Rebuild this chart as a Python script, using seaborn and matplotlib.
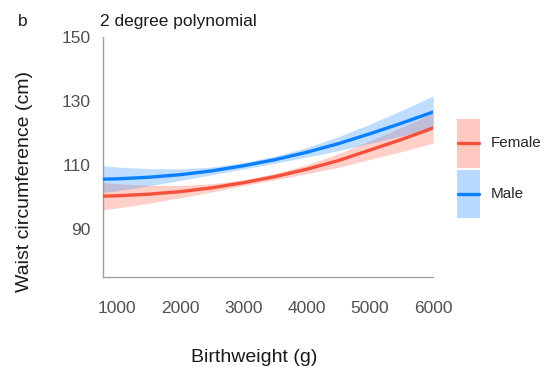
import matplotlib
matplotlib.use("Agg")
import matplotlib.pyplot as plt
from matplotlib.patches import Rectangle
from matplotlib.lines import Line2D
import seaborn as sns
import pandas as pd

# ---- data ----
birthweight = [780, 1000, 1500, 2000, 2500, 3000, 3500, 4000, 4500, 5000, 5500, 6000]
male_fit = [105.6, 105.7, 106.2, 107.0, 108.2, 109.8, 111.7, 114.0, 116.7, 119.8, 123.1, 126.6]
male_half = [4.2, 3.7, 2.7, 1.8, 1.2, 1.0, 1.1, 1.5, 2.2, 3.0, 4.0, 5.0]
female_fit = [100.3, 100.4, 100.9, 101.7, 102.9, 104.5, 106.4, 108.7, 111.4, 114.7, 118.0, 121.6]
female_half = [4.3, 3.8, 2.8, 1.9, 1.3, 0.9, 1.0, 1.4, 2.1, 2.9, 3.8, 4.7]
groups = ["Female", "Male"]
x_ticks = [1000, 2000, 3000, 4000, 5000, 6000]
y_ticks = [90, 110, 130, 150]

line_colors = {"Female": "#F5503C", "Male": "#0A80FF"}
band_colors = {"Female": "#FF6A55", "Male": "#3A9BFF"}

rows = []
for g, fit, half in (("Female", female_fit, female_half), ("Male", male_fit, male_half)):
    for x, y, h in zip(birthweight, fit, half):
        rows.append({"Birthweight": x, "Waist": y, "lo": y - h, "hi": y + h, "Sex": g})
df = pd.DataFrame(rows)

sns.set_style("white")
plt.rcParams["font.family"] = ["Liberation Sans", "DejaVu Sans"]

fig = plt.figure(figsize=(5.49, 3.79), dpi=100)
ax = fig.add_axes([0.188, 0.269, 0.601, 0.633])

for g in groups:
    sub = df[df["Sex"] == g]
    ax.fill_between(sub["Birthweight"], sub["lo"], sub["hi"],
                    color=band_colors[g], alpha=0.32, linewidth=0, zorder=1)

sns.lineplot(data=df, x="Birthweight", y="Waist", hue="Sex", hue_order=groups,
             palette=line_colors, linewidth=2.4, legend=False, ax=ax, zorder=3)

ax.set_xlim(780, 6000)
ax.set_ylim(75, 150)
ax.set_xticks(x_ticks)
ax.set_yticks(y_ticks)
ax.set_xlabel("")
ax.set_ylabel("")

for s in ("top", "right"):
    ax.spines[s].set_visible(False)
for s in ("left", "bottom"):
    ax.spines[s].set_color("#A0A0A0")
    ax.spines[s].set_linewidth(1.0)

ax.tick_params(axis="both", which="major", direction="out", color="#A0A0A0",
               labelcolor="#505050", labelsize=12.5, width=1.0)
ax.tick_params(axis="x", length=6, pad=11)
ax.tick_params(axis="y", length=7, pad=2)

fig.text(0.463, 0.058, "Birthweight (g)", ha="center", va="center", fontsize=14, color="#1A1A1A")
fig.text(0.044, 1 - 181 / 379, "Waist circumference (cm)", rotation=90,
         ha="center", va="center", fontsize=14, color="#1A1A1A")
fig.text(0.033, 1 - 26 / 379, "b", ha="left", va="baseline", fontsize=12.5, color="#1A1A1A")
fig.text(0.182, 1 - 26 / 379, "2 degree polynomial", ha="left", va="baseline",
         fontsize=12.5, color="#1A1A1A")


class BandLine:
    def __init__(self, band, line):
        self.band = band
        self.line = line


class BandLineHandler:
    def legend_artist(self, legend, orig_handle, fontsize, handlebox):
        x0, y0 = -handlebox.xdescent, -handlebox.ydescent
        w, h = handlebox.width, handlebox.height
        rect = Rectangle((x0, y0), w, h, facecolor=orig_handle.band, alpha=0.36,
                         edgecolor="none", transform=handlebox.get_transform())
        ln = Line2D([x0 + 0.05 * w, x0 + 0.95 * w], [y0 + h / 2, y0 + h / 2],
                    color=orig_handle.line, linewidth=2.4,
                    transform=handlebox.get_transform())
        handlebox.add_artist(rect)
        handlebox.add_artist(ln)
        return rect


handles = [BandLine(band_colors[g], line_colors[g]) for g in groups]
fig.legend(handles, groups, handler_map={BandLine: BandLineHandler()},
           loc="center left", bbox_to_anchor=(0.832, 0.555), frameon=False,
           fontsize=11, handlelength=1.55, handleheight=4.55, labelspacing=0.12,
           handletextpad=0.7, borderpad=0, borderaxespad=0)

fig.savefig("out.png", dpi=100)
